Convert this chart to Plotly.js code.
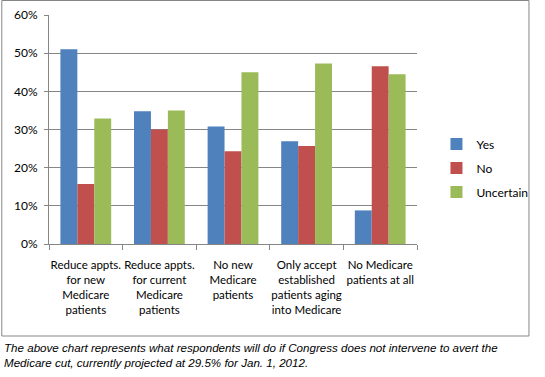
<!DOCTYPE html>
<html>
<head>
<meta charset="utf-8">
<script src="https://cdn.plot.ly/plotly-3.0.1.min.js"></script>
<style>html,body{margin:0;padding:0;background:#fff;}#chart{width:545px;height:377px;}</style>
</head>
<body>
<div id="chart"></div>
<script>
const categories = [
  "Reduce appts.<br>for new<br>Medicare<br>patients",
  "Reduce appts.<br>for current<br>Medicare<br>patients",
  "No new<br>Medicare<br>patients",
  "Only accept<br>established<br>patients aging<br>into Medicare",
  "No Medicare<br>patients at all"
];
const yesValues = [0.510, 0.348, 0.308, 0.269, 0.088];
const noValues = [0.157, 0.300, 0.243, 0.257, 0.466];
const uncertainValues = [0.329, 0.350, 0.450, 0.473, 0.445];
const seriesNames = ["Yes", "No", "Uncertain"];
const tickVals = [0, 0.1, 0.2, 0.3, 0.4, 0.5, 0.6];
const tickText = ["0%", "10%", "20%", "30%", "40%", "50%", "60%"];
const caption = "The above chart represents what respondents will do if Congress does not intervene to avert the<br>Medicare cut, currently projected at 29.5% for Jan. 1, 2012.";

const colors = ["#4F81BD", "#C0504D", "#9BBB59"];
const allValues = [yesValues, noValues, uncertainValues];
const data = allValues.map((v, i) => ({
  type: "bar",
  x: categories,
  y: v,
  name: seriesNames[i],
  legendgroup: seriesNames[i],
  marker: {color: colors[i], line: {width: 0}},
  hoverinfo: "skip"
}));

const font = {family: "Lato, 'Open Sans', sans-serif", size: 12, color: "#000"};
const xfont = {family: "Lato, 'Open Sans', sans-serif", size: 11.5, color: "#000"};
const plotL = 49, plotR = 427, plotT = 15, plotB = 244;
const pw = plotR - plotL, ph = plotB - plotT;
const layout = {
  width: 545, height: 377,
  margin: {l: plotL, r: 545 - plotR, t: plotT, b: 377 - plotB},
  paper_bgcolor: "#fff", plot_bgcolor: "#fff",
  font: font,
  barmode: "group",
  bargap: 0.31,
  bargroupgap: 0,
  showlegend: true,
  legend: {x: (447 - plotL) / pw, xanchor: "left", y: (plotB - 168) / ph, yanchor: "middle",
           traceorder: "grouped", tracegroupgap: 5, font: font, bgcolor: "rgba(0,0,0,0)"},
  xaxis: {
    type: "category",
    showline: true, linecolor: "#868686", linewidth: 1,
    ticks: "outside", tickson: "boundaries", ticklen: 5, tickcolor: "#868686",
    showgrid: false, tickfont: xfont, tickangle: 0, automargin: false,
    ticklabelstandoff: 10
  },
  yaxis: {
    range: [0, 0.6], tickvals: tickVals, ticktext: tickText,
    showline: true, linecolor: "#868686", linewidth: 1,
    ticks: "outside", ticklen: 4, tickcolor: "#868686",
    showgrid: true, gridcolor: "#868686", gridwidth: 1,
    zeroline: false, tickfont: font, automargin: false,
    ticklabelstandoff: 4
  },
  shapes: [{
    type: "rect", xref: "paper", yref: "paper",
    x0: (0.5 - plotL) / pw, x1: (542 - plotL) / pw,
    y0: (plotB - 336) / ph, y1: (plotB - 0.5) / ph,
    line: {color: "#868686", width: 1}, fillcolor: "rgba(0,0,0,0)", layer: "below"
  }],
  annotations: [{
    text: caption, xref: "paper", yref: "paper",
    x: (1 - plotL) / pw, xanchor: "left", y: (plotB - 339) / ph, yanchor: "top",
    showarrow: false, align: "left",
    font: {family: "'Liberation Sans', Arial, sans-serif", size: 11.6, color: "#000", style: "italic"}
  }]
};
Plotly.newPlot("chart", data, layout, {displayModeBar: false, staticPlot: true});
</script>
</body>
</html>
